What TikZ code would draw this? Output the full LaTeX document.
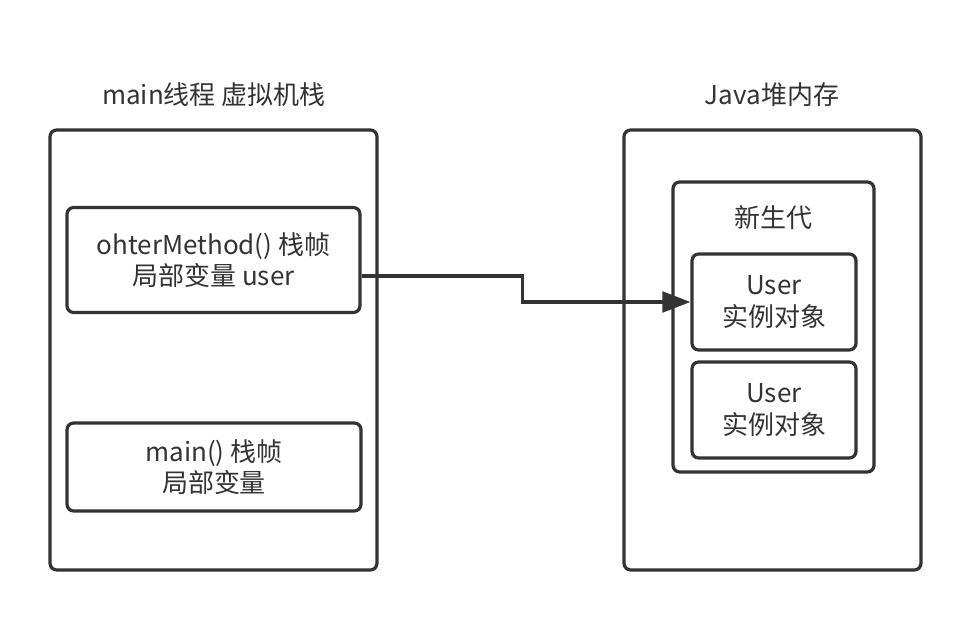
\documentclass[tikz,border=0pt]{standalone}
\usepackage{fontspec}
\setmainfont{Noto Sans CJK SC}
\usepackage{tikz}
\usetikzlibrary{arrows.meta}
\definecolor{lgray}{RGB}{51,51,51}
\tikzset{>={Triangle[length=21pt,width=15.5pt]}}
\tikzset{
	box/.style 2 args={draw=lgray, line width=2.4pt, rounded corners=5pt, inner sep=0pt,
		minimum width=#1*0.75pt, minimum height=#2*0.75pt, align=center},
	lbl/.style={text=lgray, align=center}
}

\begin{document}
\begin{tikzpicture}[x=0.75pt, y=-0.75pt, font=\fontsize{19.5}{23.5}\selectfont, text=lgray]
	\useasboundingbox (0,0) rectangle (972,620);
	\node [lbl] (stacktitle) at (214, 95) {main线程 虚拟机栈};
	\node [box={327}{440}] (stack) at (213.5, 350) {};
	\node [box={293}{105}] (f1) at (213.5, 260) {ohterMethod() 栈帧\\局部变量 user};
	\node [box={294}{88}] (f2) at (214, 467) {main() 栈帧\\局部变量};
	\node [lbl] (heaptitle) at (772, 95) {Java堆内存};
	\node [box={297}{440}] (heap) at (772.5, 350) {};
	\node [box={201}{290}] (gen) at (773.5, 327) {};
	\node [lbl] (gentitle) at (773, 218) {新生代};
	\node [box={164}{96}] (u1) at (774, 302) {User\\实例对象};
	\node [box={164}{96}] (u2) at (774, 410) {User\\实例对象};
	\draw [->, draw=lgray, line width=2.4pt] ([yshift=-12pt]f1.east) -- ++(161,0) |- (u1.west);
\end{tikzpicture}
\end{document}
